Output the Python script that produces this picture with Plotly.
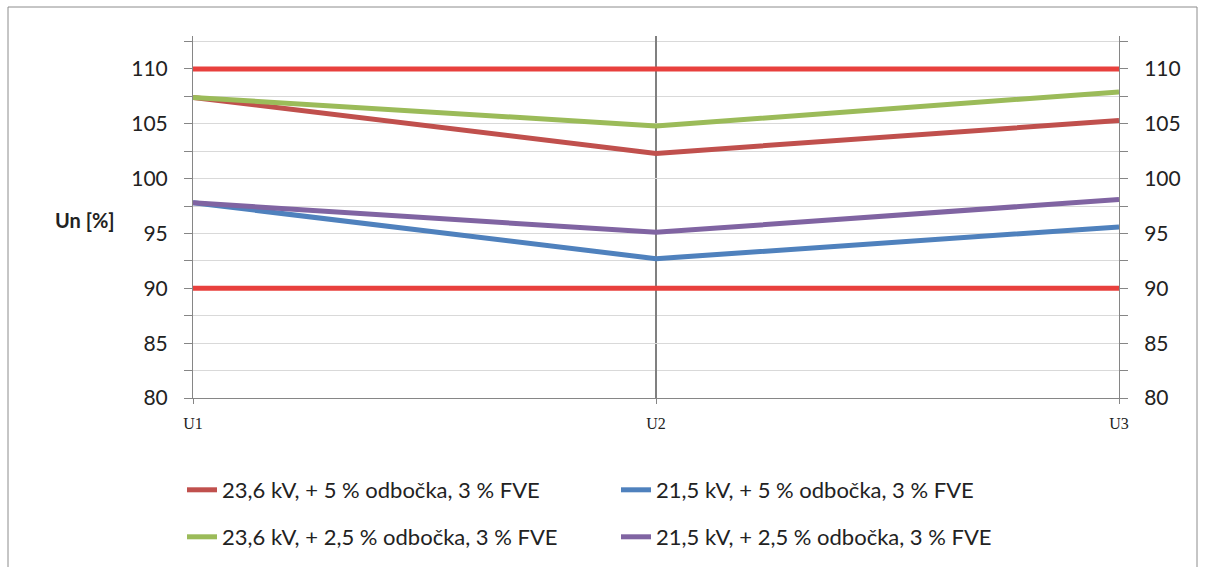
import plotly.graph_objects as go

# Measurement points along the feeder
points = ["U1", "U2", "U3"]

# Voltage profiles (% of nominal)
series_names = [
    "23,6 kV, + 5 % odbočka, 3 % FVE",
    "21,5 kV, + 5 % odbočka, 3 % FVE",
    "23,6 kV, + 2,5 % odbočka, 3 % FVE",
    "21,5 kV, + 2,5 % odbočka, 3 % FVE",
]
red_236_5 = [107.4, 102.3, 105.3]
blue_215_5 = [97.8, 92.7, 95.6]
green_236_25 = [107.4, 104.8, 107.9]
purple_215_25 = [97.8, 95.1, 98.1]

# Permitted voltage limits
upper_limit = [110, 110, 110]
lower_limit = [90, 90, 90]

colors = ["#c0504d", "#4f81bd", "#9bbb59", "#8064a2"]
limit_color = "#e8403d"
font_main = "Lato"

x = list(range(len(points)))
fig = go.Figure()

for lim in (upper_limit, lower_limit):
    fig.add_trace(go.Scatter(x=x, y=lim, mode="lines", showlegend=False,
                             line=dict(color=limit_color, width=5), hoverinfo="skip"))

data = [red_236_5, blue_215_5, green_236_25, purple_215_25]
legends = ["legend", "legend", "legend2", "legend2"]
for name, vals, col, lg in zip(series_names, data, colors, legends):
    fig.add_trace(go.Scatter(x=x, y=vals, mode="lines", name=name, legend=lg,
                             line=dict(color=col, width=5)))

# Invisible trace to drive the right-hand axis
fig.add_trace(go.Scatter(x=x, y=upper_limit, yaxis="y2", mode="lines",
                         line=dict(width=0), showlegend=False, hoverinfo="skip"))

W, H = 1205, 567
ml, mr, mt, mb = 193, 86, 36, 169
pw, ph = W - ml - mr, H - mt - mb

def px_x(v):
    return (v - ml) / pw

def px_y(v):
    return (H - mb - v) / ph

yax = dict(range=[80, 113], tickvals=[80, 85, 90, 95, 100, 105, 110],
           showgrid=True, gridcolor="#d9d9d9", gridwidth=1,
           minor=dict(dtick=2.5, tick0=80, showgrid=True, gridcolor="#d9d9d9",
                      ticks="outside", ticklen=8, tickcolor="#868686"),
           ticks="outside", ticklen=8, tickcolor="#868686",
           showline=True, linecolor="#868686", linewidth=1,
           tickfont=dict(family=font_main, size=21, color="#222"),
           ticklabelstandoff=12, zeroline=False, fixedrange=True,
           automargin=False)

legend_font = dict(family=font_main, size=22, color="#222")

fig.update_layout(
    width=W, height=H,
    margin=dict(l=ml, r=mr, t=mt, b=mb, autoexpand=False),
    paper_bgcolor="white", plot_bgcolor="white",
    xaxis=dict(range=[0, 2], tickvals=x, ticktext=points,
               showgrid=True, gridcolor="#808080", gridwidth=2,
               ticks="outside", ticklen=5, tickcolor="#868686",
               showline=True, linecolor="#868686", linewidth=1,
               tickfont=dict(family="Liberation Serif", size=16, color="#222"),
               ticklabelstandoff=6, zeroline=False, automargin=False),
    yaxis=yax,
    yaxis2=dict(yax, overlaying="y", side="right", showgrid=False,
                minor=dict(dtick=2.5, tick0=80, showgrid=False, ticks="outside",
                           ticklen=8, tickcolor="#868686")),
    legend=dict(orientation="h", x=px_x(182), y=px_y(490), yanchor="middle",
                xanchor="left", entrywidth=389, entrywidthmode="pixels",
                font=legend_font, bgcolor="rgba(0,0,0,0)", itemwidth=30),
    legend2=dict(orientation="h", x=px_x(182), y=px_y(537), yanchor="middle",
                 xanchor="left", entrywidth=389, entrywidthmode="pixels",
                 font=legend_font, bgcolor="rgba(0,0,0,0)", itemwidth=30),
    annotations=[dict(text="<b>Un [%]</b>", x=px_x(85), y=px_y(220),
                      xref="paper", yref="paper", showarrow=False,
                      xanchor="center", yanchor="middle",
                      font=dict(family=font_main, size=20, color="#222"))],
    shapes=[dict(type="rect", xref="paper", yref="paper",
                 x0=px_x(8), x1=px_x(1197), y0=px_y(600), y1=px_y(7),
                 line=dict(color="#8c8c8c", width=1), layer="below")],
    showlegend=True,
)

fig.write_html("out.html")
